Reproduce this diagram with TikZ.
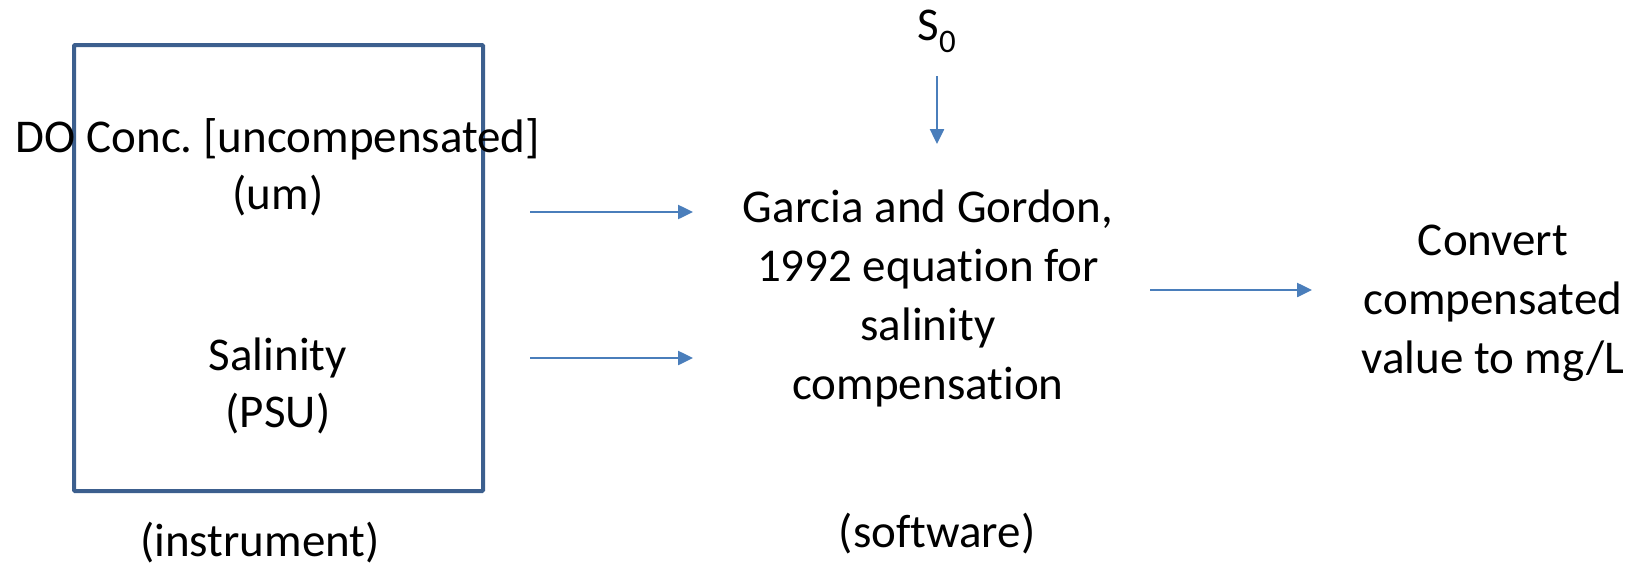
\documentclass[tikz,border=0pt]{standalone}
\usepackage{fontspec}
\setmainfont{Carlito}[Ligatures=NoCommon]
\usetikzlibrary{arrows.meta}
\frenchspacing

\definecolor{boxblue}{HTML}{3C5F8E}
\definecolor{arrowblue}{HTML}{4A7EBB}

\begin{document}
\begin{tikzpicture}
  [x=1pt,y=-1pt,
    every node/.style={font=\fontsize{47}{57}\selectfont,align=center,inner sep=0pt,anchor=base},
    loose/.style={font=\fontsize{47}{59}\selectfont},
    flow/.style={draw=arrowblue,line width=2.5pt,-{Triangle[length=15pt,width=14pt]}},
    instrument box/.style={draw=boxblue,line width=4pt,rounded corners=1pt,anchor=center},
  ]
  \useasboundingbox (0,0) rectangle (1639,565);

  % instrument side (base anchor sits on the last line)
  \node[instrument box,minimum width=409pt,minimum height=446pt] (instr) at (278.5,268) {};
  \node (conc) at (278,209) {DO Conc. [uncompensated]\\(um)};
  \node (sal) at (278,427) {Salinity\\(PSU)};
  \node (instrlabel) at (260,556) {(instrument)};

  % software side
  \node (szero) at (937,40) {S\textsubscript{0}};
  \node[loose] (garcia) at (928,399) {Garcia and Gordon,\\1992 equation for\\salinity\\compensation};
  \node (softlabel) at (937,547) {(software)};
  \node[loose] (convert) at (1493,373) {Convert\\compensated\\value to mg/L};

  \coordinate (conc out) at (530,212);
  \coordinate (conc in) at (693,212);
  \coordinate (sal out) at (530,358);
  \coordinate (sal in) at (693,358);
  \coordinate (szero out) at (937,76);
  \coordinate (szero in) at (937,144);
  \coordinate (garcia out) at (1150,290);
  \coordinate (convert in) at (1312,290);

  \draw[flow] (conc out) -- (conc in);
  \draw[flow] (sal out) -- (sal in);
  \draw[flow] (szero out) -- (szero in);
  \draw[flow] (garcia out) -- (convert in);
\end{tikzpicture}
\end{document}
